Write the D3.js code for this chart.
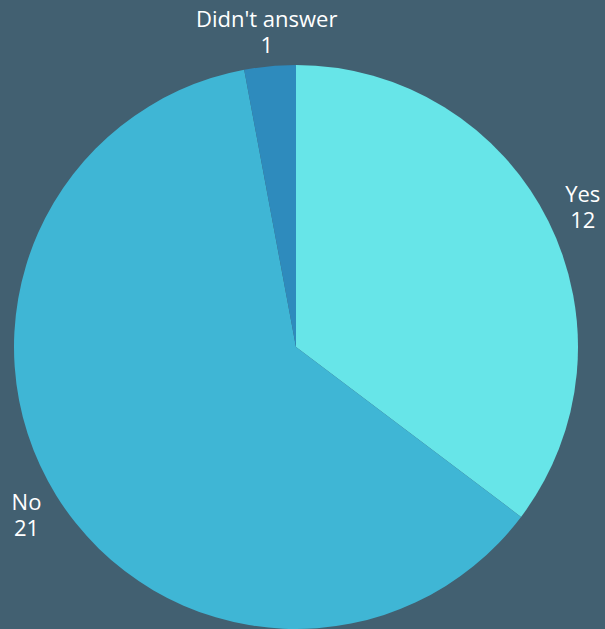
<!DOCTYPE html>
<html>
<head>
<meta charset="utf-8">
<script src="https://cdn.jsdelivr.net/npm/d3@7"></script>
<style>
  html, body { margin: 0; padding: 0; background: #426071; overflow: hidden; }
  #wrap { position: relative; width: 605px; height: 629px; }
  svg { display: block; position: absolute; left: 0; top: 0; }
  .label {
    position: absolute;
    transform: translate(-50%, -50%);
    font-family: "Open Sans", sans-serif;
    font-size: 22px;
    line-height: 26px;
    color: #ffffff;
    text-align: center;
    white-space: nowrap;
  }
</style>
</head>
<body>
<div id="wrap">
  <svg id="chart" width="605" height="629"></svg>
</div>
<script>
// Survey answers, drawn clockwise from twelve o'clock
const categories = ["Yes", "No", "Didn't answer"];
const counts = [12, 21, 1];
const colors = ["#67e5e8", "#3fb6d5", "#2e8bbd"];

const width = 605, height = 629;
const cx = 296, cy = 347, radius = 282, labelRadius = 317;

const data = categories.map((c, i) => ({ name: c, value: counts[i], color: colors[i] }));

const svg = d3.select("#chart");
svg.append("rect").attr("width", width).attr("height", height).attr("fill", "#426071");

const g = svg.append("g").attr("transform", `translate(${cx},${cy})`);

const pie = d3.pie().value(d => d.value).sort(null);
const arcs = pie(data);

const arc = d3.arc().innerRadius(0).outerRadius(radius);
const labelArc = d3.arc().innerRadius(labelRadius).outerRadius(labelRadius);

g.selectAll("path.slice")
  .data(arcs)
  .join("path")
  .attr("class", "slice")
  .attr("d", arc)
  .attr("fill", d => d.data.color);

// Two-line labels (name over count), centred just outside each slice
d3.select("#wrap").selectAll("div.label")
  .data(arcs)
  .join("div")
  .attr("class", "label")
  .style("left", d => {
    const x = labelArc.centroid(d)[0];
    return `${cx + x + (x > 100 ? 3 : 0)}px`;
  })
  .style("top", d => `${cy + labelArc.centroid(d)[1]}px`)
  .html(d => `${d.data.name.replace("'", "&#39;")}<br>${d.data.value}`);
</script>
</body>
</html>
